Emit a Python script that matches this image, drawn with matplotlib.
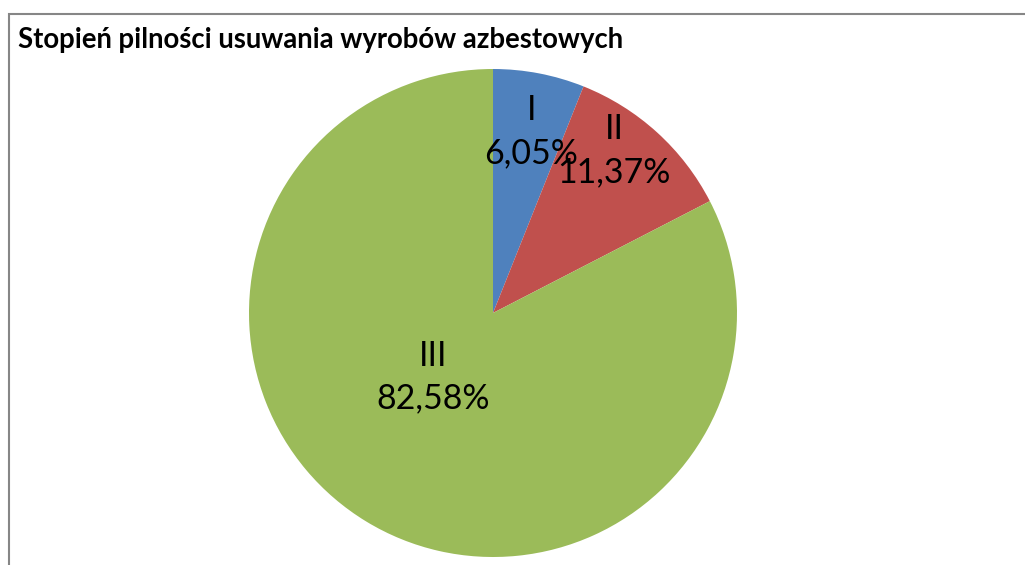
import matplotlib
matplotlib.use("Agg")
import matplotlib.pyplot as plt
from matplotlib.patches import Rectangle
import numpy as np

title = "Stopień pilności usuwania wyrobów azbestowych"
categories = ["I", "II", "III"]
values = [6.05, 11.37, 82.58]
colors = ["#4F81BD", "#C0504D", "#9BBB59"]

# label placement (distance from centre as fraction of radius, angle shift in degrees)
label_dist = [0.76, 0.83, 0.36]
label_shift = [-1.0, 5.6, -11.6]

W, H = 1025, 565
fig = plt.figure(figsize=(W / 100, H / 100), dpi=100)
fig.patch.set_facecolor("white")

# outer border (extends beyond right / bottom of the image)
fig.add_artist(Rectangle((8.5 / W, -0.05), 1.1, (H - 13.5) / H + 0.05,
                         transform=fig.transFigure, fill=False,
                         edgecolor="#868686", linewidth=1.5))

cx, cy, r = 493, 313, 244
ax = fig.add_axes([(cx - r) / W, (H - cy - r) / H, 2 * r / W, 2 * r / H])
wedges, _ = ax.pie(values, colors=colors, startangle=90, counterclock=False,
                   radius=1, wedgeprops=dict(linewidth=0))
ax.set_xlim(-1, 1)
ax.set_ylim(-1, 1)
ax.set_aspect("equal")
ax.axis("off")

for w, cat, v, d, s in zip(wedges, categories, values, label_dist, label_shift):
    mid = np.deg2rad((w.theta1 + w.theta2) / 2 + s)
    x, y = d * np.cos(mid), d * np.sin(mid)
    txt = f"{cat}\n{v:.2f}%".replace(".", ",")
    ax.text(x, y, txt, ha="center", va="center", fontsize=24.4,
            family="Lato", linespacing=1.41, color="black")

fig.text(18 / W, 1 - 40 / H, title, ha="left", va="center",
         fontsize=19.8, fontweight="bold", family="Lato")

fig.savefig("out.png", dpi=100)
